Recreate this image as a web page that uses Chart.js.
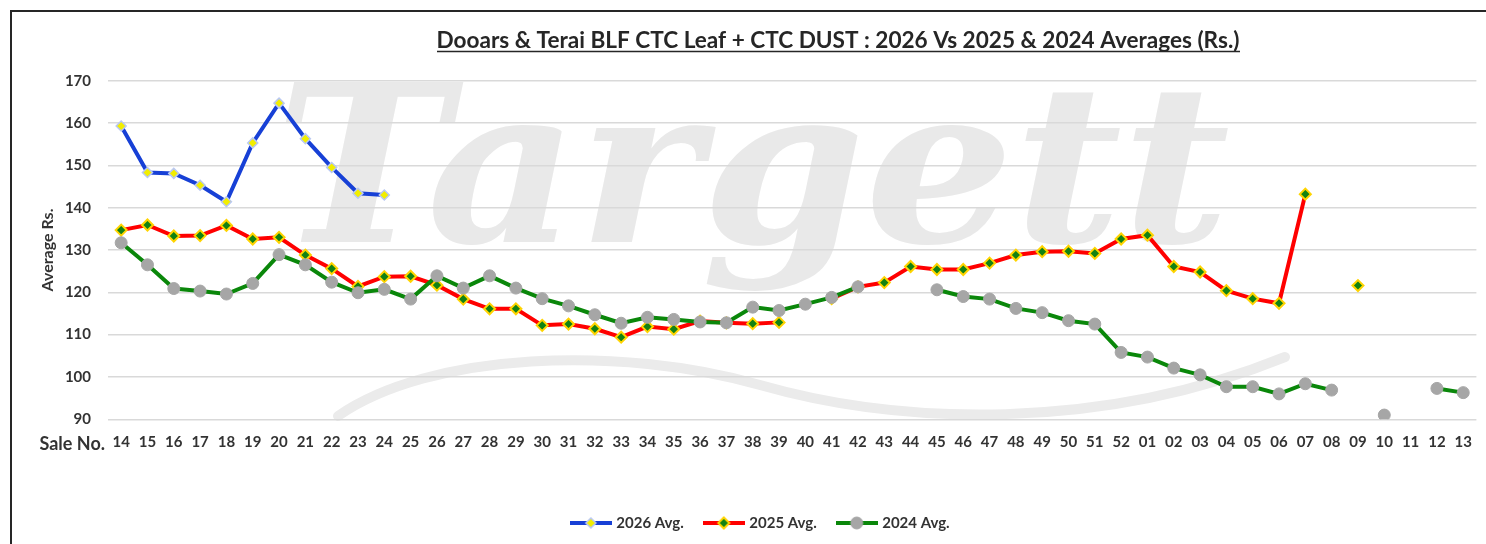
<!DOCTYPE html>
<html>
<head>
<meta charset="utf-8">
<title>Dooars &amp; Terai BLF CTC Leaf + CTC DUST Averages</title>
<script src="https://cdn.jsdelivr.net/npm/chart.js@4.4.1/dist/chart.umd.min.js"></script>
<style>
  html, body { margin: 0; padding: 0; background: #fff; overflow: hidden; }
  #wrap { position: relative; width: 1486px; height: 544px; }
  #frame { position: absolute; left: 10px; top: 10px; width: 1500px; height: 600px; border: 2px solid #262626; pointer-events: none; }
</style>
</head>
<body>
<div id="wrap">
  <canvas id="lineChart" width="1486" height="544"></canvas>
  <div id="frame"></div>
</div>
<script>
var chartTitle = 'Dooars & Terai BLF CTC Leaf + CTC DUST : 2026 Vs 2025 & 2024 Averages (Rs.)';
var seriesNames = ['2026 Avg.', '2025 Avg.', '2024 Avg.'];

// sale numbers 14..52 followed by 01..13
var sales = ['14','15','16','17','18','19','20','21','22','23','24','25','26','27','28','29','30','31','32','33',
             '34','35','36','37','38','39','40','41','42','43','44','45','46','47','48','49','50','51','52',
             '01','02','03','04','05','06','07','08','09','10','11','12','13'];

var avg2026 = [159.3, 148.3, 148.1, 145.3, 141.4, 155.3, 164.7, 156.3, 149.5, 143.4, 143.0,
               null, null, null, null, null, null, null, null, null, null, null, null, null, null, null,
               null, null, null, null, null, null, null, null, null, null, null, null, null,
               null, null, null, null, null, null, null, null, null, null, null, null, null];

var avg2025 = [134.7, 135.9, 133.3, 133.4, 135.8, 132.6, 133.0, 128.8, 125.6, 121.4, 123.7, 123.8, 121.7,
               118.4, 116.1, 116.1, 112.2, 112.5, 111.4, 109.4, 111.9, 111.3, 113.2, 112.8, 112.6, 112.9,
               null, 118.5, 121.3, 122.3, 126.1, 125.4, 125.4, 126.9, 128.8, 129.6, 129.7, 129.2, 132.6,
               133.5, 126.1, 124.8, 120.4, 118.5, 117.4, 143.2, null, 121.6, null, null, null, null];

var avg2024 = [131.7, 126.5, 120.9, 120.3, 119.6, 122.1, 128.9, 126.5, 122.4, 119.9, 120.7, 118.4, 123.9,
               121.0, 123.9, 121.0, 118.5, 116.8, 114.7, 112.7, 114.1, 113.6, 113.0, 112.8, 116.5, 115.7,
               117.2, 118.8, 121.3, null, null, 120.6, 119.0, 118.4, 116.2, 115.2, 113.3, 112.5, 105.8,
               104.7, 102.1, 100.5, 97.7, 97.7, 96.0, 98.4, 96.9, null, 91.0, null, 97.3, 96.3];

var yTicks = { min: 90, max: 170, step: 10 };

var textColor = '#333333';
var uiFont = 'Lato';

var styles = [
  { line: '#1740d6', fill: '#f2ee00', edge: '#b9c8f2', edgeWidth: 1.5, shape: 'rectRot', r: 5 },
  { line: '#ff0000', fill: '#128212', edge: '#ffd400', edgeWidth: 2, shape: 'rectRot', r: 5.5 },
  { line: '#0a870a', fill: '#a6a6a6', edge: '#a6a6a6', edgeWidth: 1, shape: 'circle', r: 6 }
];

// small "line with marker" icons for the legend
function legendIcon(s) {
  var c = document.createElement('canvas');
  c.width = 42; c.height = 16;
  var g = c.getContext('2d');
  g.strokeStyle = s.line; g.lineWidth = 4;
  g.beginPath(); g.moveTo(0, 8); g.lineTo(42, 8); g.stroke();
  g.fillStyle = s.fill; g.strokeStyle = s.edge; g.lineWidth = s.edgeWidth;
  g.beginPath();
  if (s.shape === 'circle') {
    g.arc(21, 8, s.r, 0, Math.PI * 2);
  } else {
    g.moveTo(21, 8 - s.r); g.lineTo(21 + s.r, 8); g.lineTo(21, 8 + s.r); g.lineTo(21 - s.r, 8); g.closePath();
  }
  g.fill(); g.stroke();
  return c;
}
var legendIcons = styles.map(legendIcon);

function lineSet(label, data, s, order) {
  return {
    label: label,
    data: data,
    order: order,
    borderColor: s.line,
    backgroundColor: s.line,
    borderWidth: 4,
    tension: 0,
    spanGaps: false,
    pointStyle: s.shape,
    pointRadius: s.r,
    pointBackgroundColor: s.fill,
    pointBorderColor: s.edge,
    pointBorderWidth: s.edgeWidth
  };
}

// faint logo behind the plot
var watermark = {
  id: 'watermark',
  beforeDraw: function(chart) {
    var ctx = chart.ctx;
    ctx.save();
    ctx.fillStyle = '#e9e9e9';
    ctx.textAlign = 'left';
    ctx.textBaseline = 'alphabetic';
    ctx.font = 'bold italic 220px "DejaVu Serif", serif';
    var w = ctx.measureText('Targett').width;
    ctx.translate(275, 242);
    ctx.scale(955 / w, 1);
    ctx.fillText('Targett', 0, 0);
    ctx.restore();

    ctx.save();
    ctx.strokeStyle = '#ebebeb';
    ctx.lineWidth = 10;
    ctx.lineCap = 'round';
    ctx.beginPath();
    ctx.moveTo(338, 416);
    ctx.bezierCurveTo(430, 352, 620, 345, 760, 385);
    ctx.bezierCurveTo(900, 425, 1100, 432, 1285, 357);
    ctx.stroke();
    ctx.restore();
  }
};

// underlined heading and the "Sale No." row caption
var heading = {
  id: 'heading',
  afterDraw: function(chart) {
    var ctx = chart.ctx;
    ctx.save();
    ctx.fillStyle = '#262626';
    ctx.font = 'bold 20px ' + uiFont;
    var size = 20 * 803 / ctx.measureText(chartTitle).width;
    ctx.font = 'bold ' + size.toFixed(2) + 'px ' + uiFont;
    ctx.textAlign = 'center';
    ctx.textBaseline = 'alphabetic';
    ctx.fillText(chartTitle, 838, 48);
    ctx.strokeStyle = '#262626';
    ctx.lineWidth = 1.5;
    ctx.beginPath(); ctx.moveTo(437, 51.5); ctx.lineTo(1240, 51.5); ctx.stroke();

    ctx.fillStyle = textColor;
    ctx.font = 'bold 18px ' + uiFont;
    ctx.textAlign = 'right';
    ctx.textBaseline = 'middle';
    ctx.fillText('Sale No.', 105, 444);
    ctx.restore();
  }
};

var ctx = document.getElementById('lineChart').getContext('2d');
var chart = new Chart(ctx, {
  type: 'line',
  data: {
    labels: sales,
    datasets: [
      lineSet(seriesNames[0], avg2026, styles[0], 3),
      lineSet(seriesNames[1], avg2025, styles[1], 2),
      lineSet(seriesNames[2], avg2024, styles[2], 1)
    ]
  },
  options: {
    responsive: false,
    animation: false,
    layout: { padding: { left: 36.5, top: 80.7, right: 0, bottom: 3.5 } },
    plugins: {
      title: { display: false },
      tooltip: { enabled: false },
      legend: {
        position: 'bottom',
        labels: {
          usePointStyle: true,
          pointStyleWidth: 36,
          padding: 22,
          color: textColor,
          font: { family: uiFont, size: 15, weight: 'bold' },
          sort: function(a, b) { return a.datasetIndex - b.datasetIndex; },
          generateLabels: function(c) {
            var items = Chart.defaults.plugins.legend.labels.generateLabels(c);
            items.forEach(function(it) { it.pointStyle = legendIcons[it.datasetIndex]; });
            return items;
          }
        }
      }
    },
    scales: {
      x: {
        offset: true,
        grid: { display: false, drawTicks: false },
        border: { display: false },
        ticks: { autoSkip: false, maxRotation: 0, padding: 14, color: textColor,
                 font: { family: uiFont, size: 15, weight: 'bold' } },
        afterFit: function(s) { s.height = 74.2; }
      },
      y: {
        min: yTicks.min,
        max: yTicks.max,
        ticks: { stepSize: yTicks.step, padding: 17, color: textColor,
                 font: { family: uiFont, size: 15, weight: 'bold' } },
        grid: { color: '#d9d9d9', lineWidth: 1.5, drawTicks: false },
        border: { display: false },
        title: { display: true, text: 'Average Rs.', color: textColor,
                 font: { family: uiFont, size: 16, weight: 'bold' }, padding: { top: 2, bottom: 0 } },
        afterFit: function(s) { s.width = 71.5; }
      }
    }
  },
  plugins: [watermark, heading]
});
</script>
</body>
</html>
